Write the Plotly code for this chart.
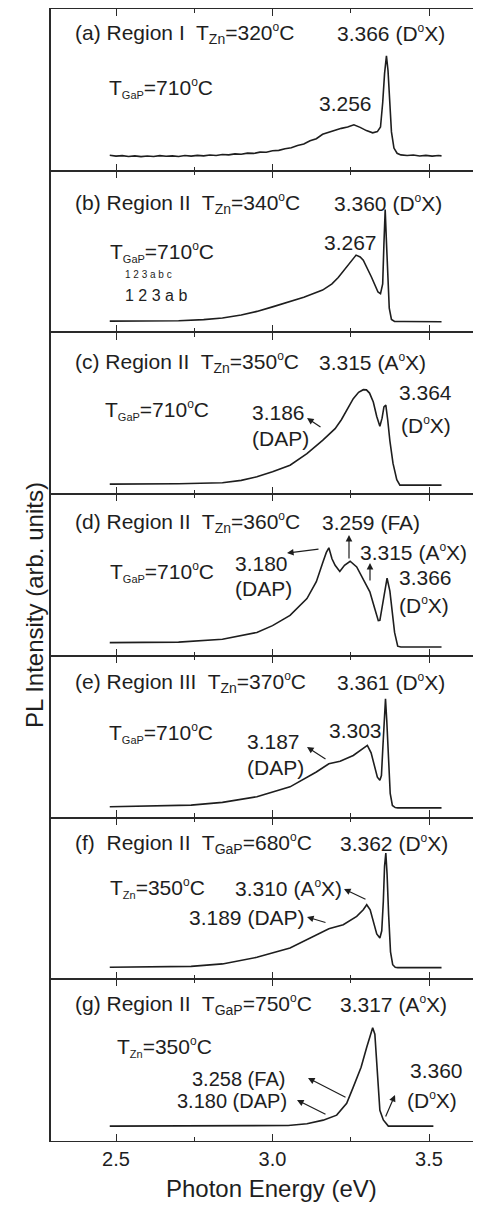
import plotly.graph_objects as go

# ---------------- data ----------------
E_a = [2.48, 2.50, 2.52, 2.54, 2.56, 2.58, 2.60, 2.62, 2.64, 2.66, 2.68, 2.70, 2.72, 2.74, 2.76,
       2.78, 2.80, 2.82, 2.84, 2.86, 2.88, 2.90, 2.92, 2.94, 2.96, 2.98, 3.00, 3.02, 3.04, 3.06,
       3.08, 3.10, 3.12, 3.14, 3.16, 3.18, 3.20, 3.22, 3.24, 3.26, 3.28, 3.30, 3.32, 3.335, 3.345,
       3.352, 3.358, 3.364, 3.369, 3.374, 3.380, 3.388, 3.398, 3.41, 3.43, 3.45, 3.47, 3.49, 3.51,
       3.53, 3.54]
I_a = [0.096, 0.090, 0.093, 0.088, 0.092, 0.087, 0.091, 0.088, 0.093, 0.089, 0.092, 0.088, 0.094,
       0.090, 0.095, 0.092, 0.097, 0.094, 0.100, 0.098, 0.104, 0.102, 0.109, 0.107, 0.115, 0.114,
       0.123, 0.126, 0.136, 0.142, 0.156, 0.165, 0.185, 0.198, 0.225, 0.238, 0.252, 0.262, 0.270,
       0.284, 0.268, 0.248, 0.234, 0.242, 0.270, 0.420, 0.600, 0.710, 0.620, 0.420, 0.240, 0.140,
       0.108, 0.098, 0.094, 0.097, 0.091, 0.095, 0.090, 0.094, 0.092]

E_b = [2.48, 2.60, 2.70, 2.78, 2.84, 2.90, 2.95, 3.00, 3.056, 3.10, 3.16, 3.19, 3.21, 3.23, 3.25,
       3.267, 3.28, 3.29, 3.316, 3.337, 3.345, 3.352, 3.356, 3.360, 3.364, 3.368, 3.373, 3.38,
       3.39, 3.42, 3.54]
I_b = [0.070, 0.070, 0.072, 0.079, 0.089, 0.108, 0.130, 0.158, 0.190, 0.218, 0.262, 0.300, 0.340,
       0.390, 0.440, 0.478, 0.467, 0.447, 0.343, 0.250, 0.240, 0.300, 0.550, 0.760, 0.560, 0.330,
       0.150, 0.080, 0.068, 0.068, 0.066]

E_c = [2.48, 2.70, 2.84, 2.90, 2.95, 3.00, 3.056, 3.11, 3.16, 3.20, 3.22, 3.24, 3.258, 3.275,
       3.29, 3.30, 3.31, 3.322, 3.333, 3.343, 3.35, 3.356, 3.362, 3.368, 3.375, 3.385, 3.397,
       3.407, 3.54]
I_c = [0.062, 0.064, 0.070, 0.085, 0.107, 0.138, 0.179, 0.250, 0.333, 0.405, 0.460, 0.530, 0.590,
       0.630, 0.646, 0.645, 0.625, 0.570, 0.480, 0.420, 0.470, 0.540, 0.550, 0.460, 0.330, 0.190,
       0.090, 0.056, 0.056]

E_d = [2.48, 2.70, 2.84, 2.95, 3.00, 3.056, 3.11, 3.14, 3.162, 3.172, 3.180, 3.19, 3.20, 3.215,
       3.23, 3.248, 3.269, 3.29, 3.311, 3.327, 3.338, 3.343, 3.354, 3.366, 3.375, 3.38, 3.39,
       3.40, 3.41, 3.54]
I_d = [0.082, 0.085, 0.103, 0.145, 0.187, 0.250, 0.354, 0.459, 0.585, 0.640, 0.668, 0.600, 0.560,
       0.522, 0.560, 0.585, 0.550, 0.470, 0.396, 0.290, 0.218, 0.220, 0.354, 0.480, 0.400, 0.313,
       0.145, 0.060, 0.055, 0.055]

E_e = [2.48, 2.74, 2.84, 2.95, 3.056, 3.14, 3.18, 3.20, 3.216, 3.258, 3.29, 3.303, 3.315, 3.325,
       3.335, 3.343, 3.348, 3.353, 3.357, 3.361, 3.365, 3.370, 3.376, 3.383, 3.392, 3.40, 3.54]
I_e = [0.067, 0.077, 0.094, 0.129, 0.190, 0.282, 0.333, 0.342, 0.348, 0.384, 0.425, 0.446, 0.400,
       0.320, 0.250, 0.231, 0.260, 0.450, 0.650, 0.735, 0.600, 0.360, 0.150, 0.075, 0.062, 0.060,
       0.060]

E_f = [2.48, 2.74, 2.84, 2.95, 3.056, 3.14, 3.18, 3.226, 3.269, 3.29, 3.301, 3.312, 3.322, 3.333,
       3.343, 3.349, 3.354, 3.358, 3.362, 3.366, 3.371, 3.377, 3.384, 3.392, 3.40, 3.54]
I_f = [0.074, 0.080, 0.095, 0.136, 0.193, 0.276, 0.313, 0.337, 0.389, 0.430, 0.461, 0.430, 0.360,
       0.280, 0.255, 0.300, 0.480, 0.700, 0.780, 0.650, 0.400, 0.170, 0.090, 0.074, 0.072, 0.072]

E_g = [2.48, 2.90, 3.05, 3.11, 3.162, 3.205, 3.237, 3.258, 3.283, 3.301, 3.312, 3.320, 3.327,
       3.334, 3.343, 3.354, 3.37, 3.40, 3.514]
I_g = [0.092, 0.092, 0.096, 0.107, 0.129, 0.160, 0.233, 0.333, 0.456, 0.580, 0.660, 0.700, 0.660,
       0.436, 0.190, 0.130, 0.092, 0.092, 0.092]

series = [(E_a, I_a), (E_b, I_b), (E_c, I_c), (E_d, I_d), (E_e, I_e), (E_f, I_f), (E_g, I_g)]

tick_vals = [2.5, 3.0, 3.5]
tick_text = ["2.5", "3.0", "3.5"]
x_title = "Photon Energy (eV)"
y_title = "PL Intensity (arb. units)"


def sub(t, s=14):
    return f'<sub><span style="font-size:{s}px">{t}</span></sub>'


DEG = '<sup><span style="font-size:12px">o</span></sup>'
ZN = sub("Zn", 14)
GAP_S = sub("GaP", 11)
GAP_L = sub("GaP", 14)

labels = [
    (f"(a) Region I  T{ZN}=320{DEG}C", 73, 33, 21),
    (f"3.366 (D{DEG}X)", 335, 33, 21),
    (f"T{GAP_S}=710{DEG}C", 107, 88, 21),
    ("3.256", 317, 103, 21),
    (f"(b) Region II  T{ZN}=340{DEG}C", 73, 203, 21),
    (f"3.360 (D{DEG}X)", 332, 203, 21),
    (f"T{GAP_S}=710{DEG}C", 108, 252, 21),
    ("1 2 3 a b c", 123, 274, 10),
    ("1 2 3 a b", 123, 295, 16),
    ("3.267", 322, 242, 21),
    (f"(c) Region II  T{ZN}=350{DEG}C", 73, 362, 21),
    (f"3.315 (A{DEG}X)", 317, 362, 21),
    (f"T{GAP_S}=710{DEG}C", 103, 410, 21),
    ("3.186", 250, 412, 21),
    ("(DAP)", 250, 438, 21),
    ("3.364", 397, 393, 21),
    (f"(D{DEG}X)", 399, 425, 21),
    (f"(d) Region II  T{ZN}=360{DEG}C", 73, 522, 21),
    ("3.259 (FA)", 320, 522, 21),
    (f"3.315 (A{DEG}X)", 358, 552, 21),
    (f"T{GAP_S}=710{DEG}C", 108, 572, 21),
    ("3.180", 233, 563, 21),
    ("(DAP)", 233, 588, 21),
    ("3.366", 397, 577, 21),
    (f"(D{DEG}X)", 397, 605, 21),
    (f"(e) Region III  T{ZN}=370{DEG}C", 73, 682, 21),
    (f"3.361 (D{DEG}X)", 335, 682, 21),
    (f"T{GAP_S}=710{DEG}C", 107, 733, 21),
    ("3.187", 245, 742, 21),
    ("(DAP)", 245, 767, 21),
    ("3.303", 327, 730, 21),
    (f"(f)  Region II  T{GAP_L}=680{DEG}C", 73, 843, 21),
    (f"3.362 (D{DEG}X)", 338, 843, 21),
    (f"T{sub('Zn', 11)}=350{DEG}C", 108, 888, 21),
    (f"3.310 (A{DEG}X)", 233, 888, 21),
    ("3.189 (DAP)", 187, 918, 21),
    (f"(g) Region II  T{GAP_L}=750{DEG}C", 73, 1004, 21),
    (f"3.317 (A{DEG}X)", 338, 1004, 21),
    (f"T{sub('Zn', 11)}=350{DEG}C", 115, 1047, 21),
    ("3.258 (FA)", 190, 1079, 20),
    ("3.180 (DAP)", 175, 1101, 20),
    ("3.360", 408, 1070, 21),
    (f"(D{DEG}X)", 405, 1100, 21),
]

# arrows: head (px,py), tail (px,py)  -- page pixel positions
arrows = [
    ((307, 418), (322, 428)),
    ((287, 553), (320, 549)),
    ((349, 535), (349, 560)),
    ((370, 563), (370, 582)),
    ((307, 747), (327, 760)),
    ((344, 889), (367, 900)),
    ((307, 917), (327, 923)),
    ((308, 1078), (347, 1098)),
    ((297, 1100), (327, 1115)),
    ((395, 1095), (385, 1118)),
]

# ---------------- layout geometry ----------------
OFF = 8                      # default page body margin
W, H = 481 - OFF, 1207 - OFF
L, R, T, B = 51 - OFF, 0, 9 - OFF, 1207 - 1141
PW, PH = W - L - R, H - T - B
X_RANGE = [2.2923, 3.6661]
FONT = "Arial, Liberation Sans, Helvetica, sans-serif"
INK = "#1e1e1e"
FRAME = "#2a2a2a"


def px2paper(px, py):
    return (px - OFF - L) / PW, (H - B - (py - OFF)) / PH


fig = go.Figure()
n = len(series)
layout = {}
for i, (xs, ys) in enumerate(series):
    k = i + 1
    xa = "x" if k == 1 else f"x{k}"
    ya = "y" if k == 1 else f"y{k}"
    fig.add_trace(go.Scatter(x=xs, y=ys, mode="lines", xaxis=xa, yaxis=ya,
                             line=dict(color=INK, width=1.6), showlegend=False,
                             hoverinfo="skip"))
    top = 1 - i / n
    bot = 1 - (i + 1) / n
    is_bottom = (k == n)
    layout["xaxis" if k == 1 else f"xaxis{k}"] = dict(
        domain=[0, 1], anchor=ya, range=X_RANGE,
        showline=True, linecolor=FRAME, linewidth=1.3, mirror="allticks",
        ticks="inside", ticklen=7, tickwidth=1.3, tickcolor=FRAME,
        tickvals=tick_vals, ticktext=tick_text,
        showticklabels=is_bottom,
        tickfont=dict(family=FONT, size=20, color=INK),
        minor=dict(tickvals=[2.75, 3.25], ticks="inside", ticklen=4, tickwidth=1.3,
                   tickcolor=FRAME, showgrid=False),
        showgrid=False, zeroline=False, fixedrange=True,
    )
    layout["yaxis" if k == 1 else f"yaxis{k}"] = dict(
        domain=[bot, top], anchor=xa, range=[0, 1],
        showline=True, linecolor=FRAME, linewidth=1.5, mirror=False,
        ticks="", showticklabels=False, showgrid=False, zeroline=False, fixedrange=True,
    )

annotations = []
for text, px, py, size in labels:
    x, y = px2paper(px, py)
    annotations.append(dict(text=text, x=x, y=y, xref="paper", yref="paper",
                            xanchor="left", yanchor="middle", showarrow=False,
                            font=dict(family=FONT, size=size, color=INK)))
for (hx, hy), (tx, ty) in arrows:
    x, y = px2paper(hx, hy)
    annotations.append(dict(text="", x=x, y=y, xref="paper", yref="paper",
                            ax=tx - hx, ay=ty - hy, axref="pixel", ayref="pixel",
                            showarrow=True, arrowhead=2, arrowsize=1.1, arrowwidth=1.2,
                            arrowcolor=INK, standoff=0, startstandoff=0))
x, y = px2paper(271, 1188)
annotations.append(dict(text=x_title, x=x, y=y, xref="paper", yref="paper",
                        xanchor="center", yanchor="middle", showarrow=False,
                        font=dict(family=FONT, size=24, color=INK)))
x, y = px2paper(34, 605)
annotations.append(dict(text=y_title, x=x, y=y, xref="paper", yref="paper",
                        xanchor="center", yanchor="middle", showarrow=False, textangle=-90,
                        font=dict(family=FONT, size=24, color=INK)))

fig.update_layout(width=W, height=H, margin=dict(l=L, r=R, t=T, b=B, pad=0),
                  paper_bgcolor="white", plot_bgcolor="white",
                  annotations=annotations, **layout)

fig.write_html("out.html")
